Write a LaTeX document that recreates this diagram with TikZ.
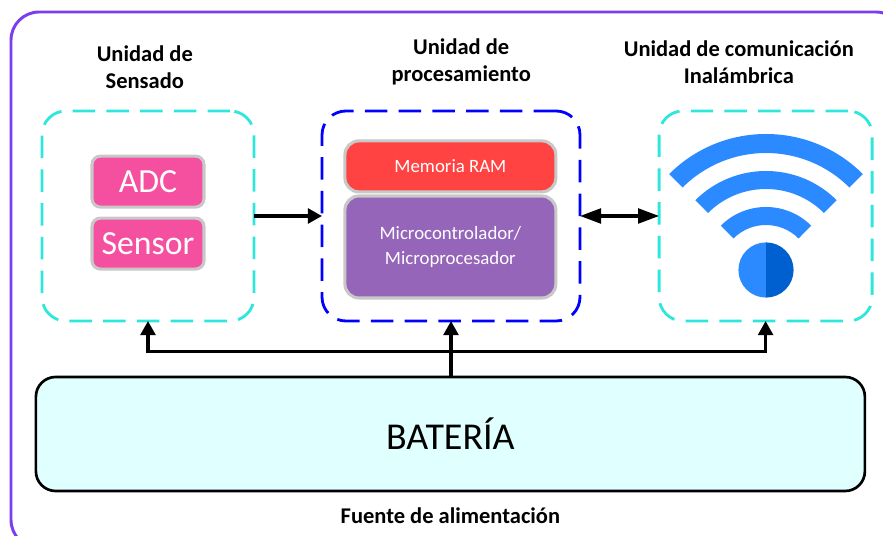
\documentclass[tikz,border=0pt]{standalone}
\usepackage{fontspec}
\setmainfont{Carlito}
\usetikzlibrary{arrows.meta,positioning}
\definecolor{marco}{HTML}{7A3DF0}
\definecolor{turquesa}{HTML}{2FE6DC}
\definecolor{rosa}{HTML}{F550A0}
\definecolor{rojo}{HTML}{FF4343}
\definecolor{morado}{HTML}{9565B9}
\definecolor{gris}{HTML}{C8C8C8}
\definecolor{celeste}{HTML}{E0FFFF}
\definecolor{wificlaro}{HTML}{2B8AFF}
\definecolor{wifioscuro}{HTML}{0060D0}
\tikzset{
    unidad/.style={draw=turquesa,line width=2pt,dash pattern=on 16pt off 8pt,rounded corners=17pt,outer sep=0pt,minimum width=5.3cm,minimum height=5.25cm},
    chip/.style={draw=gris,line width=2.2pt,text=white,rounded corners=6pt,inner sep=0pt},
    titulo/.style={font=\fontsize{16}{19.2}\selectfont\bfseries,align=center},
    flecha/.style={line width=2.2pt,-{Triangle[length=10pt,width=10.5pt]}},
    doble/.style={line width=2.2pt,{Triangle[length=15pt,width=10.5pt]}-{Triangle[length=15pt,width=10.5pt]}}
}

\begin{document}
\begin{tikzpicture}
    \useasboundingbox (0,0) rectangle (22.075,13.4);
    \clip (0,0) rectangle (22.075,13.4);

    % Outer frame
    \draw[marco,line width=2.1pt,rounded corners=20pt] (0.275,-0.3) rectangle (22.6,13.1);

    % Dashed units
    \node[unidad] (sensado) at (3.70,8.0) {};
    \node[unidad,draw=blue,minimum width=6.45cm] (procesamiento) at (11.275,8.0) {};
    \node[unidad,minimum width=5.325cm] (comunicacion) at (19.14,8.0) {};

    % Blocks inside
    \node[chip,fill=rosa,minimum width=2.8cm,minimum height=1.275cm,font=\fontsize{24}{24}\selectfont] (adc) at (3.7,8.86) {ADC};
    \node[chip,fill=rosa,minimum width=2.8cm,minimum height=1.275cm,font=\fontsize{24}{24}\selectfont] (sensor) at (3.7,7.31) {Sensor};
    \node[chip,fill=rojo,minimum width=5.275cm,minimum height=1.275cm,rounded corners=10pt,font=\fontsize{13.4}{16}\selectfont] (ram) at (11.26,9.24) {Memoria RAM};
    \node[chip,fill=morado,minimum width=5.275cm,minimum height=2.55cm,rounded corners=10pt,align=center,font=\fontsize{13.4}{18}\selectfont] (micro) at (11.26,7.225) {Microcontrolador/\\Microprocesador};

    % Wifi symbol
    \foreach \rout/\rin in {3.425/2.95,2.5/2.05,1.6/1.15}
        \fill[wificlaro] (19.15,6.625) ++(45:\rout) arc (45:135:\rout) -- ++(-45:\rout-\rin) arc (135:45:\rin) -- cycle;
    \fill[wificlaro] (19.15,6.65) ++(90:0.69) arc (90:270:0.69) -- cycle;
    \fill[wifioscuro] (19.15,6.65) ++(90:0.69) arc (90:-90:0.69) -- cycle;

    % Battery
    \node[draw=black,fill=celeste,line width=1.9pt,rounded corners=14pt,minimum width=20.725cm,minimum height=2.85cm,font=\fontsize{27}{30}\selectfont] (bateria) at (11.26,2.55) {BATERÍA};

    % Titles
    \node[titulo] (tsensado) at (3.62,11.72) {Unidad de\\Sensado};
    \node[titulo] (tproc) at (11.53,11.85) {Unidad de\\procesamiento};
    \node[titulo] (tcom) at (18.47,11.85) {Unidad de comunicación\\Inalámbrica};
    \node[titulo] (tfuente) at (11.26,0.52) {Fuente de alimentación};

    % Connections
    \coordinate (bus) at (11.275,4.62);
    \draw[flecha] (sensado) -- (procesamiento);
    \draw[doble] (procesamiento) -- (comunicacion);
    \draw[flecha] (bateria.north -| bus) -- (procesamiento.south);
    \draw[flecha] (bus) -| (sensado.south);
    \draw[flecha] (bus) -| (comunicacion.south);
\end{tikzpicture}
\end{document}
